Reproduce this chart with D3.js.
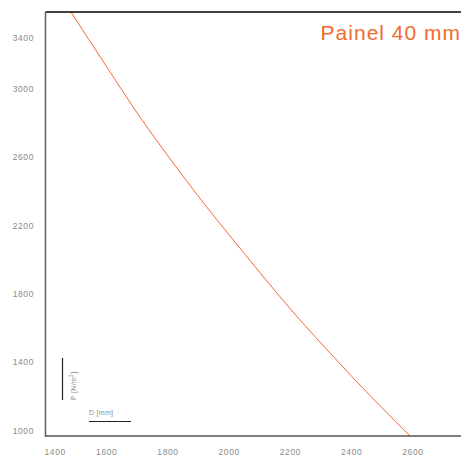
<!DOCTYPE html>
<html><head><meta charset="utf-8">
<script src="https://cdn.jsdelivr.net/npm/d3@7"></script>
<style>body{margin:0;background:#fff}svg{display:block}</style>
</head><body>
<svg id="c" width="465" height="457"></svg>
<script>
// Data
const diameters = [1483, 1600, 1715, 1800, 1960, 2000, 2200, 2231, 2329, 2400, 2590];
const pressures = [3450, 3129, 2819, 2608, 2234, 2146, 1713, 1649, 1456, 1319, 971];
const xTicks = [1400, 1600, 1800, 2000, 2200, 2400, 2600];
const yTicks = [1000, 1400, 1800, 2200, 2600, 3000, 3400];
const title = "Painel 40 mm";

(function () {
const svg = d3.select("#c");
const mLeft = 45.5, mRight = 461, mTop = 12, mBottom = 436;
const x = d3.scaleLinear().domain([1400, 2757]).range([mLeft, mRight]);
const y = d3.scaleLinear().domain([970, 3450]).range([mBottom, mTop]);
const orange = "#f26a2e";
const grey = "#8a8a8a";
const font = "'Liberation Sans', Arial, sans-serif";

// Curve
const pts = diameters.map((d, i) => [d, pressures[i]]);
svg.append("path")
  .datum(pts)
  .attr("fill", "none")
  .attr("stroke", orange)
  .attr("stroke-width", 1)
  .attr("d", d3.line().x(d => x(d[0])).y(d => y(d[1])).curve(d3.curveMonotoneX));

// Top border
svg.append("line").attr("x1", mLeft).attr("x2", mRight).attr("y1", mTop).attr("y2", mTop)
  .attr("stroke", "#000").attr("stroke-width", 1.3);
// Left spine
svg.append("line").attr("x1", mLeft).attr("x2", mLeft).attr("y1", mTop).attr("y2", mBottom + 1)
  .attr("stroke", "#666").attr("stroke-width", 1.6);
// Bottom axis
svg.append("line").attr("x1", mLeft).attr("x2", mRight).attr("y1", mBottom).attr("y2", mBottom)
  .attr("stroke", "#555").attr("stroke-width", 1.6);

// Y tick labels
svg.append("g").selectAll("text").data(yTicks).join("text")
  .attr("x", 34)
  .attr("y", d => Math.max(y(d), 38))
  .attr("dy", "0.35em")
  .attr("text-anchor", "end")
  .attr("font-family", font).attr("font-size", 8.5).attr("letter-spacing", 0.6)
  .attr("fill", grey)
  .text(d => d);

// X tick labels
svg.append("g").selectAll("text").data(xTicks).join("text")
  .attr("x", (d, i) => i === 0 ? mLeft - 1 : x(d))
  .attr("y", 455)
  .attr("text-anchor", (d, i) => i === 0 ? "start" : "middle")
  .attr("font-family", font).attr("font-size", 8.5).attr("letter-spacing", 0.6)
  .attr("fill", grey)
  .text(d => d);

// Title
svg.append("text")
  .attr("x", 461).attr("y", 40)
  .attr("text-anchor", "end")
  .attr("font-family", font).attr("font-size", 21).attr("letter-spacing", 1)
  .attr("fill", orange)
  .text(title);

// Axis key: P (vertical) and D (horizontal)
svg.append("line").attr("x1", 62.5).attr("x2", 62.5).attr("y1", 358).attr("y2", 400)
  .attr("stroke", "#222").attr("stroke-width", 1.2);
svg.append("text")
  .attr("transform", "translate(76,400) rotate(-90)")
  .attr("font-family", font).attr("font-size", 7).attr("letter-spacing", 0.3)
  .attr("fill", grey)
  .html("P [N/m<tspan baseline-shift='super' font-size='5'>2</tspan>]");
svg.append("line").attr("x1", 89).attr("x2", 131).attr("y1", 421.5).attr("y2", 421.5)
  .attr("stroke", "#222").attr("stroke-width", 1.2);
svg.append("text")
  .attr("x", 89).attr("y", 415)
  .attr("font-family", font).attr("font-size", 7).attr("letter-spacing", 0.3)
  .attr("fill", grey)
  .text("D [mm]");
})();
</script>
</body></html>
